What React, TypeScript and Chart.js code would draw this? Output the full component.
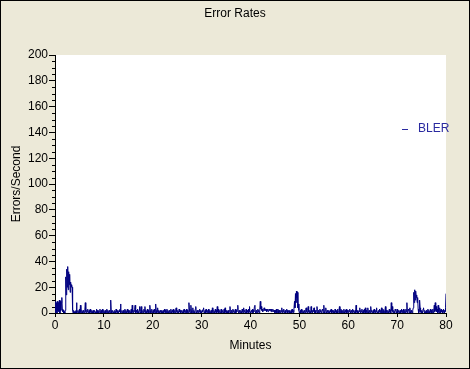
import React, { useEffect, useRef } from 'react';
import { Chart, registerables } from 'chart.js';

Chart.register(...registerables);

const TITLE = 'Error Rates';
const X_TITLE = 'Minutes';
const Y_TITLE = 'Errors/Second';
const SERIES_LABEL = 'BLER';
const SAMPLE_STEP_MIN = 0.1;
const X_TICKS = [0, 10, 20, 30, 40, 50, 60, 70, 80];
const Y_TICKS = [0, 20, 40, 60, 80, 100, 120, 140, 160, 180, 200];
const Y_MINOR_TICKS = [5, 10, 15, 25, 30, 35, 45, 50, 55, 65, 70, 75, 85, 90, 95, 105, 110, 115, 125, 130, 135, 145, 150, 155, 165, 170, 175, 185, 190, 195];

// BLER samples, one every 0.1 minute (rows of 2 minutes)
const bler: number[] = [
  0, 9, 1, 8, 0, 9, 2, 8, 1, 10, 0, 9, 2, 8, 12, 3, 1, 2, 0, 1,
  0, 2, 28, 14, 34, 20, 36, 18, 32, 22, 30, 16, 24, 20, 22, 20, 2, 0, 2, 1,
  0, 1, 0, 2, 8, 0, 1, 2, 0, 1, 3, 0, 6, 1, 0, 2, 1, 0, 2, 1,
  0, 2, 8, 1, 0, 2, 1, 3, 0, 1, 2, 0, 3, 1, 0, 2, 1, 0, 2, 0,
  1, 2, 0, 1, 0, 3, 2, 0, 1, 2, 0, 1, 3, 0, 1, 2, 0, 3, 1, 0,
  2, 0, 1, 2, 0, 1, 3, 0, 2, 1, 0, 2, 1, 0, 10, 2, 0, 1, 2, 0,
  1, 0, 2, 1, 0, 3, 1, 0, 2, 1, 0, 2, 1, 3, 7, 0, 1, 2, 0, 1,
  2, 0, 1, 3, 0, 2, 1, 0, 3, 1, 2, 0, 1, 2, 0, 1, 3, 0, 6, 1,
  0, 2, 1, 3, 6, 0, 2, 1, 0, 3, 1, 0, 2, 5, 0, 1, 5, 2, 0, 1,
  2, 0, 3, 1, 5, 0, 2, 1, 0, 3, 1, 2, 0, 1, 6, 2, 0, 1, 3, 0,
  1, 2, 0, 3, 1, 0, 7, 2, 0, 1, 4, 0, 2, 1, 0, 2, 1, 0, 2, 1,
  0, 2, 1, 0, 3, 1, 2, 0, 1, 3, 0, 2, 1, 0, 2, 1, 0, 3, 1, 0,
  2, 1, 3, 0, 1, 2, 0, 3, 4, 1, 0, 2, 1, 0, 3, 1, 2, 0, 1, 2,
  0, 1, 2, 0, 3, 1, 0, 2, 1, 3, 0, 2, 1, 0, 8, 3, 1, 0, 6, 2,
  0, 1, 4, 0, 2, 1, 0, 3, 5, 1, 0, 2, 1, 0, 2, 1, 3, 0, 2, 1,
  0, 2, 1, 3, 4, 0, 1, 2, 0, 3, 1, 0, 2, 1, 3, 0, 1, 2, 0, 1,
  2, 0, 4, 1, 0, 2, 1, 0, 3, 1, 2, 0, 5, 1, 3, 0, 1, 2, 0, 1,
  3, 0, 1, 2, 0, 1, 3, 0, 4, 1, 0, 2, 1, 0, 2, 1, 0, 2, 5, 1,
  0, 2, 1, 0, 3, 1, 2, 0, 1, 3, 0, 2, 1, 3, 6, 1, 0, 2, 1, 0,
  2, 1, 0, 3, 1, 0, 4, 1, 2, 0, 1, 3, 0, 2, 1, 0, 3, 1, 5, 0,
  1, 0, 2, 1, 3, 0, 2, 1, 5, 6, 1, 0, 2, 1, 0, 3, 1, 2, 0, 3,
  9, 3, 5, 2, 3, 1, 2, 3, 4, 2, 3, 2, 3, 1, 2, 3, 1, 2, 3, 2,
  2, 3, 1, 3, 2, 1, 3, 2, 1, 2, 0, 2, 1, 3, 0, 1, 3, 2, 0, 2,
  1, 0, 2, 1, 4, 0, 2, 1, 3, 0, 1, 2, 0, 1, 3, 2, 0, 1, 2, 0,
  2, 0, 1, 2, 0, 3, 1, 0, 2, 1, 9, 4, 15, 8, 17, 12, 16, 4, 7, 2,
  0, 1, 2, 0, 3, 1, 0, 2, 1, 0, 2, 1, 0, 3, 4, 1, 0, 2, 5, 1,
  0, 2, 1, 0, 5, 1, 0, 2, 1, 3, 4, 0, 2, 1, 0, 2, 5, 1, 0, 2,
  1, 0, 3, 1, 2, 0, 1, 3, 2, 0, 6, 1, 0, 2, 4, 1, 0, 2, 1, 0,
  2, 1, 0, 2, 1, 3, 0, 2, 1, 0, 2, 1, 0, 3, 1, 0, 2, 1, 3, 0,
  1, 2, 5, 0, 1, 3, 2, 0, 1, 2, 0, 3, 1, 0, 2, 1, 3, 0, 2, 1,
  0, 2, 1, 3, 1, 0, 2, 1, 0, 3, 1, 2, 0, 1, 2, 0, 6, 1, 0, 2,
  1, 0, 2, 1, 4, 0, 2, 1, 3, 0, 1, 2, 0, 3, 1, 4, 0, 2, 1, 0,
  4, 1, 0, 2, 1, 0, 5, 1, 2, 0, 1, 2, 0, 3, 1, 0, 2, 1, 4, 0,
  1, 0, 2, 1, 3, 0, 2, 1, 4, 0, 1, 3, 2, 0, 1, 2, 5, 0, 2, 1,
  0, 2, 1, 0, 3, 1, 2, 0, 8, 2, 5, 1, 0, 2, 1, 0, 3, 2, 1, 0,
  3, 0, 1, 2, 0, 1, 2, 0, 1, 3, 0, 2, 1, 3, 0, 1, 2, 0, 3, 1,
  8, 0, 1, 3, 2, 0, 4, 1, 0, 2, 1, 0, 2, 4, 16, 8, 18, 10, 17, 12,
  14, 8, 12, 3, 0, 1, 10, 4, 1, 0, 2, 1, 0, 3, 4, 1, 0, 2, 1, 0,
  2, 0, 1, 3, 0, 2, 1, 0, 3, 1, 2, 0, 1, 3, 0, 2, 6, 1, 8, 2,
  5, 1, 3, 0, 6, 1, 0, 4, 2, 0, 3, 1, 2, 0, 1, 3, 0, 2, 1, 4,
  15,
];

const FONT = 'Liberation Sans, Arial, sans-serif';
const BG = '#ECE9D8';
const LINE_COLOR = '#000080';
const LEGEND_COLOR = '#2a2aa0';

const decorPlugin = {
  id: 'decor',
  beforeDraw(chart: any) {
    const { ctx, width, height, chartArea } = chart;
    ctx.save();
    ctx.fillStyle = BG;
    ctx.fillRect(0, 0, width, height);
    ctx.fillStyle = '#ffffff';
    ctx.fillRect(chartArea.left, chartArea.top, chartArea.right - chartArea.left, chartArea.bottom - chartArea.top);
    ctx.restore();
  },
  afterDraw(chart: any) {
    const { ctx, width, height, chartArea } = chart;
    const y = chart.scales.y;
    ctx.save();
    ctx.strokeStyle = '#000';
    ctx.lineWidth = 1;
    ctx.beginPath();
    for (const v of Y_MINOR_TICKS) {
      const py = Math.round(y.getPixelForValue(v)) + 0.5;
      ctx.moveTo(chartArea.left - 3, py);
      ctx.lineTo(chartArea.left, py);
    }
    ctx.stroke();
    ctx.fillStyle = '#000';
    ctx.font = `12px ${FONT}`;
    ctx.textAlign = 'center';
    ctx.textBaseline = 'middle';
    ctx.fillText(TITLE, width / 2, 14);
    const ds = chart.data.datasets[0];
    ctx.strokeStyle = LEGEND_COLOR;
    ctx.beginPath();
    ctx.moveTo(402, 129.5);
    ctx.lineTo(408, 129.5);
    ctx.stroke();
    ctx.fillStyle = LEGEND_COLOR;
    ctx.textAlign = 'left';
    ctx.fillText(ds.label, 418, 129);
    ctx.strokeStyle = '#000';
    ctx.strokeRect(0.5, 0.5, width - 1, height - 1);
    ctx.restore();
  },
};

export default function App() {
  const ref = useRef<HTMLCanvasElement>(null);
  useEffect(() => {
    if (!ref.current) return;
    const points = bler.map((v, i) => ({ x: i * SAMPLE_STEP_MIN, y: v }));
    const chart = new Chart(ref.current, {
      type: 'line',
      data: {
        datasets: [
          {
            label: SERIES_LABEL,
            data: points,
            borderColor: LINE_COLOR,
            backgroundColor: LINE_COLOR,
            borderWidth: 1,
            pointRadius: 0,
            tension: 0,
          },
        ],
      },
      options: {
        responsive: false,
        animation: false,
        devicePixelRatio: 1,
        layout: { padding: { top: 55, right: 24, bottom: 0, left: 0 } },
        plugins: {
          legend: { display: false },
          title: { display: false },
          tooltip: { enabled: false },
        },
        scales: {
          x: {
            type: 'linear',
            min: 0,
            max: 80,
            afterFit: (s: any) => {
              s.height = 56;
            },
            afterBuildTicks: (s: any) => {
              s.ticks = X_TICKS.map((v) => ({ value: v }));
            },
            ticks: {
              color: '#000',
              font: { family: FONT, size: 12 },
              padding: 1,
              maxRotation: 0,
              autoSkip: false,
            },
            grid: { drawOnChartArea: false, color: '#000', tickColor: '#000', tickLength: 4 },
            border: { color: '#000' },
            title: {
              display: true,
              text: X_TITLE,
              color: '#000',
              font: { family: FONT, size: 12 },
              padding: { top: 0, bottom: 16 },
            },
          },
          y: {
            min: 0,
            max: 200,
            afterFit: (s: any) => {
              s.width = 55;
            },
            afterBuildTicks: (s: any) => {
              s.ticks = Y_TICKS.map((v) => ({ value: v }));
            },
            ticks: {
              color: '#000',
              font: { family: FONT, size: 12 },
              padding: 1,
              autoSkip: false,
            },
            grid: { drawOnChartArea: false, color: '#000', tickColor: '#000', tickLength: 6 },
            border: { color: '#000' },
            title: {
              display: true,
              text: Y_TITLE,
              color: '#000',
              font: { family: FONT, size: 12 },
              padding: { top: 9, bottom: 0 },
            },
          },
        },
      },
      plugins: [decorPlugin],
    } as any);
    return () => chart.destroy();
  }, []);
  return (
    <div style={{ position: 'fixed', left: 0, top: 0, width: 470, height: 369 }}>
      <canvas ref={ref} width={470} height={369} style={{ display: 'block', width: 470, height: 369 }} />
    </div>
  );
}
